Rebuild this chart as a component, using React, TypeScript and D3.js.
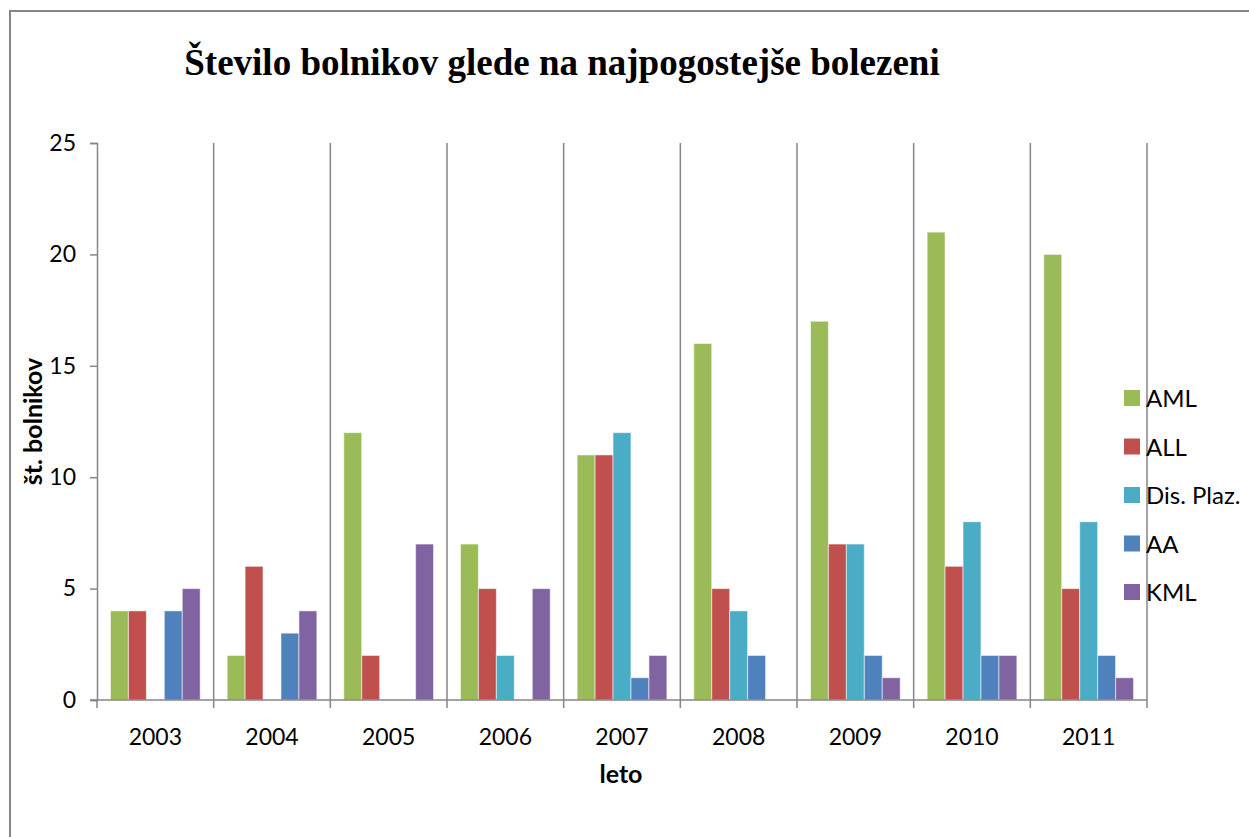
import React, { useEffect, useRef } from 'react';
import * as d3 from 'd3';

// Število bolnikov po letih, grouped bars

const years = ['2003', '2004', '2005', '2006', '2007', '2008', '2009', '2010', '2011'];
const seriesNames = ['AML', 'ALL', 'Dis. Plaz.', 'AA', 'KML'];
const seriesColors = ['#9BBB59', '#C0504D', '#4BACC6', '#4F81BD', '#8064A2'];

const aml = [4, 2, 12, 7, 11, 16, 17, 21, 20];
const all = [4, 6, 2, 5, 11, 5, 7, 6, 5];
const disPlaz = [0, 0, 0, 2, 12, 4, 7, 8, 8];
const aa = [4, 3, 0, 0, 1, 2, 2, 2, 2];
const kml = [5, 4, 7, 5, 2, 0, 1, 2, 1];

const yTicks = [0, 5, 10, 15, 20, 25];

const App = () => {
  const svgRef = useRef<SVGSVGElement>(null);

  useEffect(() => {
    const width = 1249;
    const height = 837;
    const margin = { top: 143, right: 102, bottom: 137, left: 97 };
    const axisColor = '#868686';
    const sans = 'Lato, "Open Sans", sans-serif';

    const svg = d3.select(svgRef.current);
    svg.selectAll('*').remove();

    const values = [aml, all, disPlaz, aa, kml];

    // outer frame
    svg.append('path')
      .attr('d', `M10,${height} L10,11 L${width},11`)
      .attr('fill', 'none')
      .attr('stroke', axisColor)
      .attr('stroke-width', 2);

    // title
    svg.append('text')
      .attr('x', 562)
      .attr('y', 75)
      .attr('text-anchor', 'middle')
      .attr('font-family', '"Liberation Serif", "Times New Roman", serif')
      .attr('font-weight', 'bold')
      .attr('font-size', 37)
      .text('Število bolnikov glede na najpogostejše bolezeni');

    const x0 = d3.scaleBand()
      .domain(years)
      .range([margin.left, width - margin.right])
      .padding(0);

    const x1 = d3.scaleBand()
      .domain(seriesNames)
      .range([0, x0.bandwidth()])
      .paddingInner(0)
      .paddingOuter(0.75);

    const y = d3.scaleLinear()
      .domain([0, 25])
      .range([height - margin.bottom, margin.top]);

    // vertical gridlines at category boundaries
    const bounds = years.map(yr => x0(yr)! + x0.bandwidth());
    svg.append('g')
      .selectAll('line')
      .data(bounds)
      .enter()
      .append('line')
      .attr('x1', d => d)
      .attr('x2', d => d)
      .attr('y1', y(25))
      .attr('y2', y(0) + 8)
      .attr('stroke', axisColor)
      .attr('stroke-width', 1.5);

    // bars
    const groups = svg.append('g')
      .selectAll('g')
      .data(years)
      .enter()
      .append('g')
      .attr('transform', d => `translate(${x0(d)},0)`);

    groups.selectAll('rect')
      .data((_, i) => seriesNames.map((s, k) => ({ s, k, v: values[k][i] })))
      .enter()
      .filter(d => d.v > 0)
      .append('rect')
      .attr('x', d => x1(d.s)!)
      .attr('y', d => y(d.v))
      .attr('width', x1.bandwidth())
      .attr('height', d => y(0) - y(d.v))
      .attr('fill', d => seriesColors[d.k])
      .attr('stroke', 'rgba(255,255,255,0.55)')
      .attr('stroke-width', 1);

    // y axis
    const yAxis = svg.append('g')
      .attr('transform', `translate(${margin.left},0)`)
      .call(d3.axisLeft(y).tickValues(yTicks).tickSize(7).tickPadding(14).tickFormat(d3.format('d')));
    yAxis.select('.domain').attr('stroke', axisColor).attr('stroke-width', 1.5);
    yAxis.selectAll('.tick line').attr('stroke', axisColor).attr('stroke-width', 1.5);
    yAxis.selectAll('.tick text')
      .attr('font-family', sans)
      .attr('font-size', 23)
      .attr('fill', '#000');

    // x axis
    svg.append('line')
      .attr('x1', margin.left - 7)
      .attr('x2', width - margin.right)
      .attr('y1', y(0))
      .attr('y2', y(0))
      .attr('stroke', axisColor)
      .attr('stroke-width', 1.5);
    svg.append('line')
      .attr('x1', margin.left)
      .attr('x2', margin.left)
      .attr('y1', y(0))
      .attr('y2', y(0) + 8)
      .attr('stroke', axisColor)
      .attr('stroke-width', 1.5);

    svg.append('g')
      .selectAll('text')
      .data(years)
      .enter()
      .append('text')
      .attr('x', d => x0(d)! + x0.bandwidth() / 2)
      .attr('y', 745)
      .attr('text-anchor', 'middle')
      .attr('font-family', sans)
      .attr('font-size', 23)
      .text(d => d);

    // axis titles
    svg.append('text')
      .attr('x', 621)
      .attr('y', 783)
      .attr('text-anchor', 'middle')
      .attr('font-family', sans)
      .attr('font-weight', 'bold')
      .attr('font-size', 25)
      .text('leto');

    svg.append('text')
      .attr('transform', `translate(42,${(y(0) + y(25)) / 2}) rotate(-90)`)
      .attr('text-anchor', 'middle')
      .attr('font-family', sans)
      .attr('font-weight', 'bold')
      .attr('font-size', 25)
      .text('št. bolnikov');

    // legend
    const legend = svg.append('g')
      .selectAll('g')
      .data(seriesNames)
      .enter()
      .append('g')
      .attr('transform', (_, i) => `translate(1124,${398 + i * 48.5})`);
    legend.append('rect')
      .attr('x', 0)
      .attr('y', -8)
      .attr('width', 16)
      .attr('height', 16)
      .attr('fill', (_, i) => seriesColors[i]);
    legend.append('text')
      .attr('x', 22)
      .attr('y', 9)
      .attr('font-family', sans)
      .attr('font-size', 24)
      .text(d => d);
  }, []);

  return (
    <div style={{ position: 'absolute', left: 0, top: 0 }}>
      <svg ref={svgRef} width="1249" height="837" style={{ display: 'block', background: '#fff' }} />
    </div>
  );
};

export default App;
